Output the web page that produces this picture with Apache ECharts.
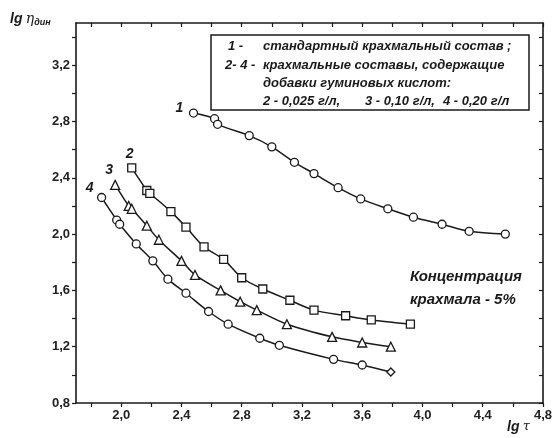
<!DOCTYPE html>
<html><head><meta charset="utf-8">
<script src="https://cdn.jsdelivr.net/npm/echarts@6/dist/echarts.min.js"></script>
<style>html,body{margin:0;padding:0;background:#fff}#c{width:555px;height:438px}</style>
</head><body><div id="c"></div>
<script>
// axis ticks / labels
const xTicks = [1.8, 2.0, 2.2, 2.4, 2.6, 2.8, 3.0, 3.2, 3.4, 3.6, 3.8, 4.0, 4.2, 4.4, 4.6, 4.8];
const xLabels = [2.0, 2.4, 2.8, 3.2, 3.6, 4.0, 4.4, 4.8];
const yTicks = [0.8, 1.0, 1.2, 1.4, 1.6, 1.8, 2.0, 2.2, 2.4, 2.6, 2.8, 3.0, 3.2, 3.4];
const yLabels = [0.8, 1.2, 1.6, 2.0, 2.4, 2.8, 3.2];

// curve 1: standard starch composition
const c1x = [2.48, 2.62, 2.64, 2.85, 3.00, 3.15, 3.28, 3.44, 3.59, 3.77, 3.94, 4.13, 4.31, 4.55];
const c1y = [2.86, 2.82, 2.78, 2.70, 2.62, 2.51, 2.43, 2.33, 2.25, 2.18, 2.12, 2.07, 2.02, 2.00];
// curve 2: 0,025 g/l
const c2x = [2.07, 2.17, 2.19, 2.33, 2.43, 2.55, 2.68, 2.80, 2.94, 3.12, 3.28, 3.49, 3.66, 3.92];
const c2y = [2.47, 2.31, 2.29, 2.16, 2.05, 1.91, 1.82, 1.69, 1.61, 1.53, 1.46, 1.42, 1.39, 1.36];
// curve 3: 0,10 g/l
const c3x = [1.96, 2.05, 2.07, 2.17, 2.25, 2.40, 2.49, 2.66, 2.79, 2.90, 3.10, 3.40, 3.60, 3.79];
const c3y = [2.35, 2.20, 2.18, 2.06, 1.96, 1.81, 1.71, 1.60, 1.52, 1.46, 1.36, 1.27, 1.23, 1.20];
// curve 4: 0,20 g/l
const c4x = [1.87, 1.97, 1.99, 2.10, 2.21, 2.31, 2.43, 2.58, 2.71, 2.92, 3.05, 3.41, 3.60, 3.79];
const c4y = [2.26, 2.10, 2.07, 1.93, 1.81, 1.68, 1.58, 1.45, 1.36, 1.26, 1.21, 1.11, 1.07, 1.02];

const curveNames = ['1', '2', '3', '4'];

const FONT = '"Liberation Sans", Arial, sans-serif';
const INK = '#1a1a1a';

function pairs(xs, ys) { return xs.map((x, i) => [x, ys[i]]); }
const fmt = v => Number(v).toFixed(1).replace('.', ',');

const labelOffsets = [[-14, -5], [-2, -14], [-6, -15], [-12, -9]];
const symbols = ['circle', 'rect', 'triangle', 'circle'];
const lastSymbols = ['circle', 'rect', 'triangle', 'diamond'];
const allX = [c1x, c2x, c3x, c4x];
const allY = [c1y, c2y, c3y, c4y];

const series = allX.map((xs, k) => {
  const data = pairs(xs, allY[k]).map((p, i) => {
    const item = { value: p };
    if (i === 0) {
      item.label = {
        show: true, formatter: curveNames[k], position: 'inside',
        offset: labelOffsets[k], color: INK,
        fontFamily: FONT, fontWeight: 'bold', fontStyle: 'italic', fontSize: 14
      };
    }
    if (i === xs.length - 1) item.symbol = lastSymbols[k];
    return item;
  });
  return {
    type: 'line', name: curveNames[k], data,
    smooth: 0.3, symbol: symbols[k], symbolSize: k === 2 ? 9 : 8,
    lineStyle: { color: INK, width: 1.5 },
    itemStyle: { color: '#fff', borderColor: INK, borderWidth: 1.3 },
    label: { show: false },
    z: 3
  };
});

const tickLabelStyle = { color: '#222', fontFamily: FONT, fontSize: 13, fontWeight: 'bold' };
const legendText = (x, y, t) => ({ type: 'text', x, y, z: 10,
  style: { text: t, fontFamily: FONT, fontSize: 13, fontWeight: 'bold', fontStyle: 'italic', fill: INK, verticalAlign: 'middle' } });

const option = {
  backgroundColor: '#fff',
  animation: false,
  grid: { left: 76, right: 12, top: 23, bottom: 35 },
  xAxis: [{
    type: 'value', min: 1.7, max: 4.8, position: 'bottom',
    axisLine: { show: true, lineStyle: { color: INK, width: 1.6 } },
    axisTick: { show: true, customValues: xTicks, length: 4, inside: false, lineStyle: { color: INK, width: 1.2 } },
    axisLabel: Object.assign({ customValues: xLabels, formatter: fmt, margin: 6 }, tickLabelStyle),
    splitLine: { show: false }
  }, {
    type: 'value', min: 1.7, max: 4.8, position: 'top',
    axisLine: { show: true, onZero: false, lineStyle: { color: INK, width: 1.6 } },
    axisTick: { show: true, customValues: xTicks, length: 4, inside: true, lineStyle: { color: INK, width: 1.2 } },
    axisLabel: { show: false }, splitLine: { show: false }
  }],
  yAxis: [{
    type: 'value', min: 0.8, max: 3.5, position: 'left',
    axisLine: { show: true, lineStyle: { color: INK, width: 1.6 } },
    axisTick: { show: true, customValues: yTicks, length: 4, inside: false, lineStyle: { color: INK, width: 1.2 } },
    axisLabel: Object.assign({ customValues: yLabels, formatter: fmt, margin: 6 }, tickLabelStyle),
    splitLine: { show: false }
  }, {
    type: 'value', min: 0.8, max: 3.5, position: 'right',
    axisLine: { show: true, onZero: false, lineStyle: { color: INK, width: 1.6 } },
    axisTick: { show: true, customValues: yTicks, length: 4, inside: true, lineStyle: { color: INK, width: 1.2 } },
    axisLabel: { show: false }, splitLine: { show: false }
  }],
  series,
  graphic: [
    // y-axis title
    { type: 'text', left: 10, top: 12, z: 10,
      style: { rich: {
        a: { fontFamily: FONT, fontSize: 14, fontWeight: 'bold', fontStyle: 'italic', fill: INK },
        b: { fontFamily: 'DejaVu Serif', fontSize: 14, fontStyle: 'italic', fill: INK },
        s: { fontFamily: FONT, fontSize: 9, fontWeight: 'bold', fontStyle: 'italic', fill: INK, padding: [8, 0, 0, 0] }
      }, text: '{a|lg} {b|η}{s|дин}' } },
    // x-axis title
    { type: 'text', left: 507, top: 420, z: 10,
      style: { rich: {
        a: { fontFamily: FONT, fontSize: 14, fontWeight: 'bold', fontStyle: 'italic', fill: INK },
        b: { fontFamily: 'DejaVu Serif', fontSize: 13, fontStyle: 'italic', fill: INK }
      }, text: '{a|lg} {b|τ}' } },
    // legend box
    { type: 'rect', shape: { x: 211, y: 35, width: 318, height: 75 }, z: 5,
      style: { fill: '#fff', stroke: INK, lineWidth: 1.5 } },
    legendText(228, 46, '1 -'),
    legendText(263, 46, 'стандартный крахмальный состав ;'),
    legendText(225, 65, '2- 4 -'),
    legendText(263, 65, 'крахмальные составы, содержащие'),
    legendText(263, 83, 'добавки гуминовых кислот:'),
    legendText(263, 101, '2 - 0,025 г/л,'),
    legendText(365, 101, '3 - 0,10 г/л,'),
    legendText(443, 101, '4 - 0,20 г/л'),
    // concentration note
    { type: 'text', x: 410, y: 277, z: 10, style: { text: 'Концентрация', fontFamily: FONT, fontSize: 15, fontWeight: 'bold', fontStyle: 'italic', fill: INK, verticalAlign: 'middle' } },
    { type: 'text', x: 410, y: 300, z: 10, style: { text: 'крахмала - 5%', fontFamily: FONT, fontSize: 15, fontWeight: 'bold', fontStyle: 'italic', fill: INK, verticalAlign: 'middle' } }
  ]
};

const chart = echarts.init(document.getElementById('c'), null, { renderer: 'canvas' });
chart.setOption(option);
</script>
</body></html>
